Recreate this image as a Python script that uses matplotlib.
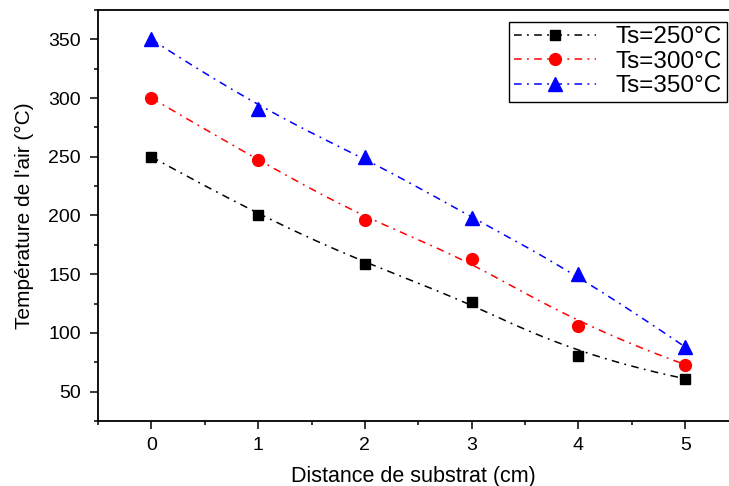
import numpy as np
import matplotlib
matplotlib.use("Agg")
import matplotlib.pyplot as plt
from matplotlib.ticker import MultipleLocator

plt.rcParams['font.family'] = ['Liberation Sans', 'DejaVu Sans']

distance = [0, 1, 2, 3, 4, 5]
ts250 = [250, 200, 159, 126, 80, 61]
ts300 = [300, 247, 196, 163, 106, 73]
ts350 = [350, 291, 250, 198, 150, 88]
labels = ["Ts=250°C", "Ts=300°C", "Ts=350°C"]


def bspline(xs, ys, k=3, n=300):
    P = np.column_stack([xs, ys]).astype(float)
    m = len(P)
    inner = np.arange(1, m - k)
    t = np.concatenate([np.zeros(k + 1), inner, np.full(k + 1, m - k)]).astype(float)
    u = np.linspace(0, m - k, n)
    u[-1] -= 1e-9

    def N(i, p, u):
        if p == 0:
            return ((t[i] <= u) & (u < t[i + 1])).astype(float)
        a = np.zeros_like(u)
        b = np.zeros_like(u)
        if t[i + p] != t[i]:
            a = (u - t[i]) / (t[i + p] - t[i]) * N(i, p - 1, u)
        if t[i + p + 1] != t[i + 1]:
            b = (t[i + p + 1] - u) / (t[i + p + 1] - t[i + 1]) * N(i + 1, p - 1, u)
        return a + b

    B = np.array([N(i, k, u) for i in range(m)])
    C = B.T @ P
    return C[:, 0], C[:, 1]


fig = plt.figure(figsize=(7.29, 4.86), dpi=100)
ax = fig.add_axes([98 / 729, 1 - 421 / 486, 631 / 729, 411 / 486])

dash = (5, 3.5, 1.2, 3.5)
styles = [("black", "s", 7.5), ("red", "o", 8.5), ("blue", "^", 10)]
for ys, lab, (c, mk, ms) in zip([ts250, ts300, ts350], labels, styles):
    cx, cy = bspline(distance, ys)
    ax.plot(cx, cy, linestyle=(0, dash), color=c, lw=1.1)
    ax.plot(distance, ys, linestyle='none', marker=mk, color=c, ms=ms)
    ax.plot([], [], linestyle=(0, dash), color=c, lw=1.1, marker=mk, ms=ms, label=lab)

ax.set_xlim(-0.5, 5.41)
ax.set_ylim(25, 375)
ax.xaxis.set_major_locator(MultipleLocator(1))
ax.xaxis.set_minor_locator(MultipleLocator(0.5))
ax.yaxis.set_major_locator(MultipleLocator(50))
ax.yaxis.set_minor_locator(MultipleLocator(25))
ax.set_yticks([50, 100, 150, 200, 250, 300, 350])
ax.tick_params(axis='both', which='major', direction='out', length=5.5, width=1.1, labelsize=14)
ax.tick_params(axis='y', which='major', pad=7)
ax.tick_params(axis='x', which='major', pad=6)
ax.tick_params(axis='both', which='minor', direction='out', length=3, width=1.1)
ax.tick_params(top=False, right=False)
ax.spines['right'].set_visible(False)
for s in ['left', 'bottom', 'top']:
    ax.spines[s].set_linewidth(1.3)

ax.set_xlabel("Distance de substrat (cm)", fontsize=15.5, labelpad=9)
ax.set_ylabel("Température de l'air (°C)", fontsize=15, labelpad=10)

leg = ax.legend(loc='upper right', bbox_to_anchor=(0.997, 0.972), borderaxespad=0,
                fontsize=17.5, fancybox=False, edgecolor='black', framealpha=1,
                handlelength=3.4, handletextpad=0.8, borderpad=0.2, labelspacing=0.1)
leg.get_frame().set_linewidth(1)

fig.savefig("out.png", dpi=100)
